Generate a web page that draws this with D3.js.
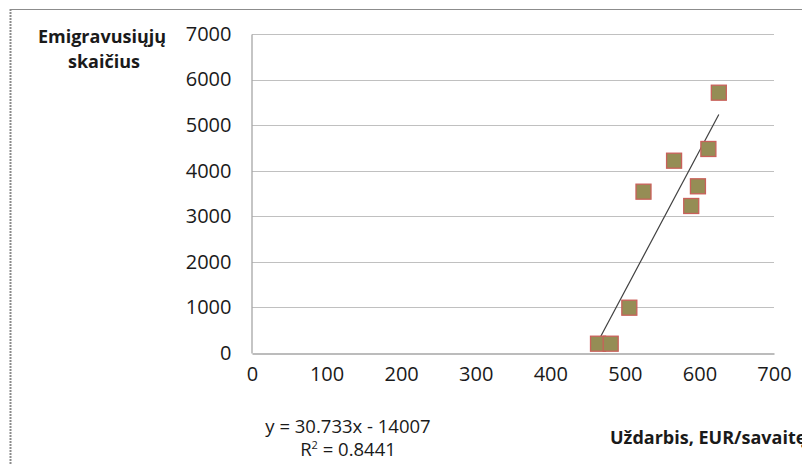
<!DOCTYPE html>
<html><head><meta charset="utf-8">
<script src="https://cdn.jsdelivr.net/npm/d3@7"></script>
<style>html,body{margin:0;padding:0;background:#fff;}svg{display:block;font-family:"Open Sans",Calibri,sans-serif;}</style>
</head><body>
<script>
const earnings = [626, 612, 566, 598, 525, 589, 506, 464, 481];
const emigrants = [5712, 4477, 4220, 3658, 3540, 3226, 994, 204, 204];
const xTicks = [0, 100, 200, 300, 400, 500, 600, 700];
const yTicks = [0, 1000, 2000, 3000, 4000, 5000, 6000, 7000];
const slope = 30.733, intercept = -14007;
const equationText = "y = 30.733x - 14007";
const r2Text = "0.8441";
const yTitle = ["Emigravusiųjų", "skaičius"];
const xTitle = "Uždarbis, EUR/savaitę";

const W = 802, H = 464;
const svg = d3.select("body").append("svg").attr("width", W).attr("height", H);

// chart frame
svg.append("line").attr("x1", 10).attr("x2", W).attr("y1", 9.5).attr("y2", 9.5).attr("stroke", "#8c8c8c").attr("stroke-width", 1.2);
svg.append("line").attr("x1", 10.5).attr("x2", 10.5).attr("y1", 9).attr("y2", H).attr("stroke", "#8c8c8c").attr("stroke-width", 2).attr("stroke-dasharray", "2,1");

const x = d3.scaleLinear().domain([0, 700]).range([252, 774]);
const y = d3.scaleLinear().domain([0, 7000]).range([353, 34]);

// gridlines
svg.append("g").selectAll("line").data(yTicks.filter(d => d > 0)).join("line")
  .attr("x1", x(0)).attr("x2", x(700)).attr("y1", d => Math.round(y(d)) + 0.5).attr("y2", d => Math.round(y(d)) + 0.5)
  .attr("stroke", "#c0c0c0").attr("stroke-width", 1.2);

// y axis
const yAxis = svg.append("g").attr("transform", `translate(${x(0) - 0.5},0)`)
  .call(d3.axisLeft(y).tickValues(yTicks).tickFormat(d3.format("d")).tickSize(0).tickPadding(20));
yAxis.select(".domain").attr("stroke", "#a6a6a6").attr("stroke-width", 1.3);
yAxis.selectAll("text").attr("font-size", 20).attr("fill", "#1a1a1a").attr("font-family", "Open Sans");

// x axis
const xAxis = svg.append("g").attr("transform", `translate(0,${y(0) + 0.5})`)
  .call(d3.axisBottom(x).tickValues(xTicks).tickFormat(d3.format("d")).tickSize(0).tickPadding(27));
xAxis.select(".domain").attr("stroke", "#a6a6a6").attr("stroke-width", 1.3);
xAxis.selectAll("text").attr("font-size", 20).attr("fill", "#1a1a1a").attr("font-family", "Open Sans").attr("dy", "0");

// trendline
const xmin = d3.min(earnings), xmax = d3.max(earnings);
svg.append("line")
  .attr("x1", x(xmin)).attr("y1", y(slope * xmin + intercept))
  .attr("x2", x(xmax)).attr("y2", y(slope * xmax + intercept))
  .attr("stroke", "#404040").attr("stroke-width", 1.2);

// points
const s = 15;
svg.append("g").selectAll("rect").data(earnings.map((e, i) => [e, emigrants[i]])).join("rect")
  .attr("x", d => x(d[0]) - s / 2).attr("y", d => y(d[1]) - s / 2)
  .attr("width", s).attr("height", s)
  .attr("fill", "#958d55").attr("stroke", "#c9605a").attr("stroke-width", 1.3);

// y title
svg.append("text").attr("x", 102).attr("y", 43).attr("text-anchor", "middle")
  .attr("font-size", 18).attr("font-weight", "bold").attr("fill", "#1a1a1a").text(yTitle[0]);
svg.append("text").attr("x", 104).attr("y", 68).attr("text-anchor", "middle")
  .attr("font-size", 18).attr("font-weight", "bold").attr("fill", "#1a1a1a").text(yTitle[1]);

// x title
svg.append("text").attr("x", 610).attr("y", 444)
  .attr("font-size", 18).attr("font-weight", "bold").attr("fill", "#1a1a1a").text(xTitle);

// equation
svg.append("text").attr("x", 348).attr("y", 433).attr("text-anchor", "middle")
  .attr("font-size", 18.5).attr("fill", "#1a1a1a").text(equationText);
const r = svg.append("text").attr("x", 348).attr("y", 456).attr("text-anchor", "middle")
  .attr("font-size", 18.5).attr("fill", "#1a1a1a");
r.append("tspan").text("R");
r.append("tspan").attr("font-size", 11).attr("dy", -7).text("2");
r.append("tspan").attr("dy", 7).text(" = " + r2Text);
</script>
</body></html>
